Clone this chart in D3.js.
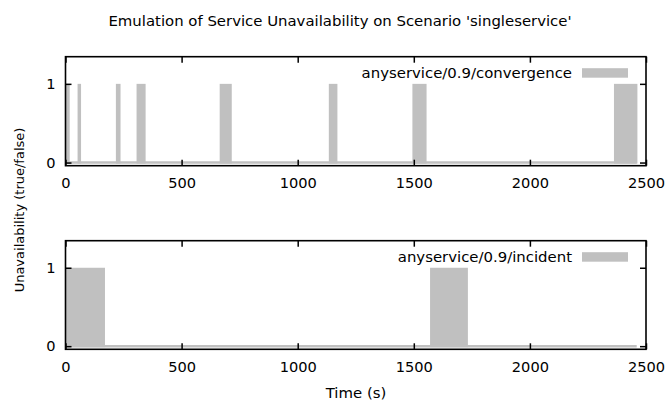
<!DOCTYPE html>
<html>
<head>
<meta charset="utf-8">
<script src="https://cdn.jsdelivr.net/npm/d3@7"></script>
<style>
  body { margin: 0; background: #fff; }
  text { font-family: 'DejaVu Sans', sans-serif; fill: #000; }
</style>
</head>
<body>
<div class="canvas"></div>
<script>
// data: intervals (seconds) where the service was unavailable (value 1)
const convStart = [0, 52, 217, 306, 664, 1134, 1494, 2362]
const convEnd = [18, 67, 237, 345, 716, 1171, 1555, 2463]
const incStart = [0, 1570]
const incEnd = [170, 1733]
const lastSample = [2460, 2460]   // last timestamp in each series
const seriesNames = ['anyservice/0.9/convergence', 'anyservice/0.9/incident']
const xTicks = [0, 500, 1000, 1500, 2000, 2500]
const yTicks = [0, 1]

const svgWidth = 668, svgHeight = 401
const boxColor = '#c0c0c0'
const fontSize = 14.6

const svg = d3.select('.canvas')
  .append('svg')
  .attr('width', svgWidth)
  .attr('height', svgHeight)

// scales
const x = d3.scaleLinear().domain([0, 2500]).range([65.5, 646])

svg.append('text')
  .attr('x', 340)
  .attr('y', 26)
  .attr('text-anchor', 'middle')
  .style('font-size', '14.9px')
  .text("Emulation of Service Unavailability on Scenario 'singleservice'")

svg.append('text')
  .attr('transform', 'translate(24, 210) rotate(-90)')
  .attr('text-anchor', 'middle')
  .style('font-size', '13px')
  .text('Unavailability (true/false)')

svg.append('text')
  .attr('x', 356)
  .attr('y', 398)
  .attr('text-anchor', 'middle')
  .style('font-size', '14.9px')
  .text('Time (s)')

const drawPanel = (top, bottom, starts, ends, endTime, name) => {
  const y = d3.scaleLinear().domain([-0.04, 1.345]).range([bottom, top])
  const g = svg.append('g')

  // baseline (zero-valued boxes)
  g.append('line')
    .attr('x1', x(0))
    .attr('x2', x(endTime))
    .attr('y1', y(0))
    .attr('y2', y(0))
    .attr('stroke', boxColor)
    .attr('stroke-width', 2.5)

  // unavailable boxes
  g.selectAll('rect.box')
    .data(d3.zip(starts, ends))
    .enter()
    .append('rect')
    .attr('class', 'box')
    .attr('x', d => x(d[0]))
    .attr('width', d => x(d[1]) - x(d[0]))
    .attr('y', y(1))
    .attr('height', y(0) - y(1) + 1)
    .attr('fill', boxColor)

  // axes, ticks inward and mirrored
  const xAxis = d3.axisBottom(x).tickValues(xTicks).tickFormat(d3.format('d')).tickSize(-6).tickPadding(12).tickSizeOuter(0)
  const xAxisTop = d3.axisTop(x).tickValues(xTicks).tickSize(-6).tickFormat('').tickSizeOuter(0)
  const yAxis = d3.axisLeft(y).tickValues(yTicks).tickFormat(d3.format('d')).tickSize(-6).tickPadding(10).tickSizeOuter(0)
  const yAxisRight = d3.axisRight(y).tickValues(yTicks).tickSize(-6).tickFormat('').tickSizeOuter(0)

  const gx = g.append('g').attr('transform', `translate(0, ${bottom})`).call(xAxis)
  g.append('g').attr('transform', `translate(0, ${top})`).call(xAxisTop)
  const gy = g.append('g').attr('transform', `translate(${x(0)}, 0)`).call(yAxis)
  g.append('g').attr('transform', `translate(${x(2500)}, 0)`).call(yAxisRight)

  g.selectAll('.domain').remove()
  g.selectAll('.tick line').attr('stroke', '#000').attr('stroke-width', 1.5)
  gx.selectAll('text').style('font-size', fontSize + 'px').style('font-family', 'DejaVu Sans')
  gy.selectAll('text').style('font-size', fontSize + 'px').style('font-family', 'DejaVu Sans')

  // frame
  g.append('rect')
    .attr('x', x(0))
    .attr('y', top)
    .attr('width', x(2500) - x(0))
    .attr('height', bottom - top)
    .attr('fill', 'none')
    .attr('stroke', '#000')
    .attr('stroke-width', 1.6)

  // key
  g.append('text')
    .attr('x', 572)
    .attr('y', top + 21)
    .attr('text-anchor', 'end')
    .style('font-size', '14.9px')
    .text(name)

  g.append('rect')
    .attr('x', 582)
    .attr('y', top + 11.5)
    .attr('width', 46)
    .attr('height', 9.5)
    .attr('fill', boxColor)
}

drawPanel(56.7, 165.7, convStart, convEnd, lastSample[0], seriesNames[0])
drawPanel(240.7, 349.3, incStart, incEnd, lastSample[1], seriesNames[1])
</script>
</body>
</html>
